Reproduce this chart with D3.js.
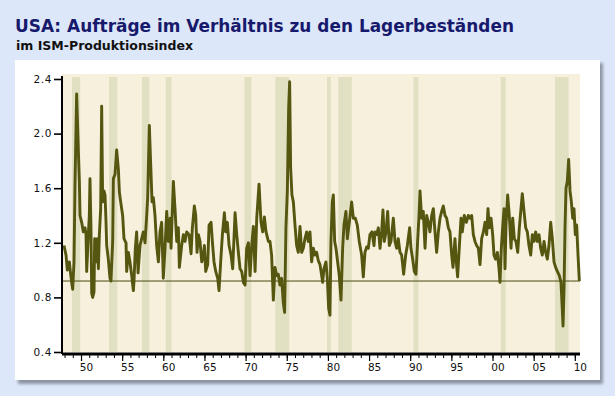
<!DOCTYPE html>
<html>
<head>
<meta charset="utf-8">
<script src="https://cdn.jsdelivr.net/npm/d3@7"></script>
<style>
    html, body { margin: 0; padding: 0; background: #dde7fa; }
    svg { display: block; }
</style>
</head>
<body>
<svg id="viewBox" width="615" height="396"></svg>
<script>
'use strict'

// orders / inventories ratio (decimal year, value)
const ratio = [
    [1947.93, 1.18], [1948.18, 1.11], [1948.34, 1.00], [1948.58, 1.06], [1948.74, 0.97], [1948.91, 0.89],
    [1948.99, 0.86], [1949.15, 1.06], [1949.27, 1.63], [1949.47, 2.29], [1949.68, 1.87], [1949.80, 1.65],
    [1949.88, 1.40], [1950.08, 1.35], [1950.28, 1.28], [1950.49, 1.31], [1950.61, 1.26], [1950.69, 0.99],
    [1950.89, 1.26], [1951.01, 1.40], [1951.09, 1.67], [1951.21, 1.31], [1951.30, 0.83], [1951.42, 0.80],
    [1951.58, 0.84], [1951.66, 1.23], [1951.82, 1.06], [1951.98, 1.23], [1952.11, 1.01], [1952.23, 1.26],
    [1952.39, 1.45], [1952.51, 2.20], [1952.63, 1.50], [1952.79, 1.58], [1952.92, 1.55], [1953.04, 1.35],
    [1953.12, 1.18], [1953.32, 1.08], [1953.52, 0.94], [1953.64, 0.92], [1953.85, 1.21], [1953.93, 1.67],
    [1954.13, 1.70], [1954.33, 1.88], [1954.54, 1.74], [1954.66, 1.57], [1954.82, 1.50], [1955.06, 1.40],
    [1955.22, 1.23], [1955.47, 1.20], [1955.55, 0.99], [1955.75, 1.13], [1955.95, 1.06], [1956.16, 0.96],
    [1956.36, 0.85], [1956.44, 0.92], [1956.60, 1.16], [1956.76, 1.28], [1956.93, 0.98], [1957.17, 1.18],
    [1957.37, 1.23], [1957.57, 1.28], [1957.78, 1.20], [1957.98, 1.40], [1958.10, 1.53], [1958.30, 2.06],
    [1958.47, 1.77], [1958.63, 1.50], [1958.79, 1.53], [1958.99, 1.40], [1959.19, 1.18], [1959.40, 1.06],
    [1959.60, 1.28], [1959.80, 1.35], [1960.00, 0.94], [1960.21, 1.16], [1960.41, 1.43], [1960.61, 1.21],
    [1960.82, 1.38], [1960.94, 1.16], [1961.22, 1.65], [1961.42, 1.45], [1961.63, 1.21], [1961.83, 1.31],
    [1961.95, 1.02], [1962.23, 1.18], [1962.44, 1.26], [1962.64, 1.21], [1962.84, 1.28], [1963.13, 1.26],
    [1963.37, 1.12], [1963.53, 1.31], [1963.77, 1.47], [1963.94, 1.40], [1964.10, 1.13], [1964.26, 1.26],
    [1964.46, 1.21], [1964.67, 1.06], [1964.87, 1.11], [1964.99, 1.18], [1965.15, 0.99], [1965.39, 1.04],
    [1965.56, 1.33], [1965.80, 1.35], [1965.96, 1.21], [1966.16, 1.06], [1966.37, 0.99], [1966.61, 0.94],
    [1966.77, 0.85], [1966.97, 1.06], [1967.18, 1.26], [1967.42, 1.42], [1967.58, 1.28], [1967.78, 1.35],
    [1967.99, 1.18], [1968.23, 1.11], [1968.43, 1.01], [1968.72, 1.42], [1968.92, 1.26], [1969.12, 1.13],
    [1969.32, 1.01], [1969.53, 0.99], [1969.73, 0.91], [1969.93, 0.89], [1970.13, 1.16], [1970.34, 1.20],
    [1970.54, 0.96], [1970.74, 1.18], [1970.94, 1.32], [1971.15, 0.99], [1971.35, 1.38], [1971.63, 1.63],
    [1971.87, 1.35], [1972.08, 1.28], [1972.28, 1.39], [1972.48, 1.28], [1972.77, 1.21], [1972.96, 1.21],
    [1973.16, 1.11], [1973.37, 0.78], [1973.57, 1.02], [1973.77, 0.96], [1973.97, 0.97], [1974.17, 0.89],
    [1974.38, 0.94], [1974.58, 0.76], [1974.74, 0.69], [1974.90, 1.31], [1975.07, 1.58], [1975.23, 2.19],
    [1975.35, 2.38], [1975.47, 1.75], [1975.63, 1.55], [1975.80, 1.50], [1976.00, 1.33], [1976.20, 1.18],
    [1976.40, 1.13], [1976.61, 1.32], [1976.81, 1.13], [1977.01, 1.16], [1977.21, 1.23], [1977.42, 1.28],
    [1977.62, 1.21], [1977.82, 1.28], [1978.02, 1.06], [1978.23, 1.16], [1978.43, 1.11], [1978.63, 1.13],
    [1978.83, 1.07], [1979.04, 1.04], [1979.24, 0.96], [1979.36, 0.91], [1979.52, 1.01], [1979.76, 1.06],
    [1979.93, 0.94], [1980.09, 0.72], [1980.25, 0.67], [1980.37, 1.21], [1980.53, 1.50], [1980.66, 1.55],
    [1980.82, 1.21], [1980.98, 1.16], [1981.18, 1.06], [1981.38, 0.96], [1981.59, 0.78], [1981.79, 1.16],
    [1981.95, 1.33], [1982.19, 1.43], [1982.36, 1.23], [1982.60, 1.35], [1982.88, 1.50], [1983.09, 1.38],
    [1983.33, 1.38], [1983.57, 1.33], [1983.81, 1.21], [1984.10, 1.11], [1984.30, 0.95], [1984.50, 1.13],
    [1984.71, 1.17], [1984.91, 1.16], [1985.11, 1.26], [1985.35, 1.28], [1985.60, 1.18], [1985.72, 1.28],
    [1985.92, 1.26], [1986.13, 1.31], [1986.33, 1.16], [1986.53, 1.28], [1986.69, 1.44], [1986.85, 1.21],
    [1987.06, 1.28], [1987.26, 1.43], [1987.46, 1.18], [1987.66, 1.21], [1987.95, 1.38], [1988.15, 1.21],
    [1988.35, 1.16], [1988.55, 1.23], [1988.76, 1.13], [1988.96, 1.11], [1989.20, 0.97], [1989.45, 1.11],
    [1989.65, 1.18], [1989.93, 1.31], [1990.09, 1.16], [1990.30, 1.08], [1990.50, 0.99], [1990.70, 0.97],
    [1990.90, 1.21], [1991.07, 1.40], [1991.19, 1.58], [1991.39, 1.38], [1991.59, 1.43], [1991.80, 1.16],
    [1992.00, 1.40], [1992.20, 1.35], [1992.40, 1.28], [1992.61, 1.40], [1992.81, 1.45], [1993.01, 1.28],
    [1993.21, 1.13], [1993.42, 1.28], [1993.62, 1.38], [1993.82, 1.43], [1994.02, 1.47], [1994.23, 1.40],
    [1994.43, 1.38], [1994.63, 1.31], [1994.83, 1.28], [1995.04, 1.11], [1995.20, 1.02], [1995.44, 1.23],
    [1995.60, 1.06], [1995.76, 0.95], [1995.93, 1.13], [1996.17, 1.38], [1996.33, 1.28], [1996.57, 1.40],
    [1996.82, 1.35], [1997.06, 1.40], [1997.26, 1.38], [1997.47, 1.40], [1997.67, 1.26], [1997.87, 1.21],
    [1998.07, 1.18], [1998.28, 1.16], [1998.48, 1.04], [1998.68, 1.23], [1998.89, 1.28], [1999.09, 1.35],
    [1999.29, 1.26], [1999.45, 1.45], [1999.61, 1.31], [1999.82, 1.38], [2000.02, 1.26], [2000.18, 1.11],
    [2000.38, 1.08], [2000.59, 1.13], [2000.79, 1.01], [2000.91, 0.91], [2001.07, 1.16], [2001.23, 1.31],
    [2001.40, 1.45], [2001.52, 1.01], [2001.64, 1.33], [2001.84, 1.55], [2002.04, 1.40], [2002.25, 1.16],
    [2002.45, 1.38], [2002.65, 1.23], [2002.85, 1.21], [2003.06, 1.13], [2003.26, 1.31], [2003.46, 1.45],
    [2003.62, 1.56], [2003.83, 1.43], [2004.03, 1.31], [2004.23, 1.28], [2004.43, 1.18], [2004.64, 1.11],
    [2004.84, 1.26], [2005.04, 1.21], [2005.24, 1.28], [2005.45, 1.21], [2005.65, 1.26], [2005.85, 1.16],
    [2006.05, 1.11], [2006.26, 1.21], [2006.46, 1.13], [2006.66, 1.08], [2006.86, 1.18], [2007.07, 1.35],
    [2007.27, 1.23], [2007.47, 1.06], [2007.67, 1.02], [2007.88, 0.99], [2008.12, 0.96], [2008.32, 0.91],
    [2008.44, 0.76], [2008.57, 0.59], [2008.69, 0.86], [2008.81, 1.31], [2008.93, 1.60], [2009.09, 1.65],
    [2009.25, 1.81], [2009.42, 1.58], [2009.58, 1.50], [2009.74, 1.38], [2009.90, 1.45], [2010.06, 1.26],
    [2010.22, 1.33], [2010.39, 1.11], [2010.55, 0.92]
]

// shaded recession periods (start, end)
const recessions = [
    [1948.9, 1949.9], [1953.4, 1954.4], [1957.4, 1958.3], [1960.3, 1961.0],
    [1969.85, 1970.7], [1973.6, 1975.3], [1979.9, 1980.35], [1981.25, 1982.9],
    [1990.4, 1991.0], [2001.0, 2001.6], [2007.6, 2009.25]
]

const referenceLevel = 0.92
const yTicks = [0.4, 0.8, 1.2, 1.6, 2.0, 2.4]
const majorYears = [1950, 1955, 1960, 1965, 1970, 1975, 1980, 1985, 1990, 1995, 2000, 2005, 2010]
const minorYears = d3.range(1948, 2011)

const title = 'USA: Aufträge im Verhältnis zu den Lagerbeständen'
const subtitle = 'im ISM-Produktionsindex'

const draw = () => {
    const svg = d3.select('#viewBox')
    const plot = { left: 62, right: 580, top: 74, bottom: 352 }

    svg.append('rect')
        .attr('width', 615).attr('height', 396)
        .attr('fill', '#dde7fa')

    svg.append('text')
        .attr('x', 15).attr('y', 32)
        .attr('font-family', 'DejaVu Sans')
        .attr('font-weight', 'bold')
        .attr('font-size', 18.5)
        .attr('fill', '#171a6c')
        .attr('textLength', 499)
        .attr('lengthAdjust', 'spacingAndGlyphs')
        .text(title)

    svg.append('text')
        .attr('x', 16).attr('y', 50)
        .attr('font-family', 'DejaVu Sans')
        .attr('font-weight', 'bold')
        .attr('font-size', 12)
        .attr('fill', '#111')
        .attr('textLength', 177)
        .attr('lengthAdjust', 'spacingAndGlyphs')
        .text(subtitle)

    // panel with soft shadow
    const defs = svg.append('defs')
    defs.append('filter').attr('id', 'blur')
        .append('feGaussianBlur').attr('stdDeviation', 1.6)
    svg.append('rect')
        .attr('x', 18).attr('y', 63).attr('width', 585).attr('height', 321)
        .attr('fill', '#8d95a3')
        .attr('filter', 'url(#blur)')
    svg.append('rect')
        .attr('x', 15).attr('y', 60).attr('width', 585).attr('height', 320)
        .attr('fill', '#fff')

    const x = d3.scaleLinear()
        .domain([1947.69, 2010.63])
        .range([plot.left, plot.right])
    const y = d3.scaleLinear()
        .domain([0.4, 2.4])
        .range([plot.bottom, 79])

    svg.append('rect')
        .attr('x', plot.left).attr('y', plot.top)
        .attr('width', plot.right - plot.left).attr('height', plot.bottom - plot.top)
        .attr('fill', '#f6f0dd')

    svg.append('g')
        .selectAll('rect')
        .data(recessions)
        .join('rect')
        .attr('x', d => x(d[0]))
        .attr('width', d => x(d[1]) - x(d[0]))
        .attr('y', plot.top + 3)
        .attr('height', plot.bottom - plot.top - 3)
        .attr('fill', '#e1e0c2')

    svg.append('line')
        .attr('x1', plot.left).attr('x2', plot.right)
        .attr('y1', y(referenceLevel)).attr('y2', y(referenceLevel))
        .attr('stroke', '#4b4b10')
        .attr('stroke-width', 1)

    const line = d3.line()
        .x(d => x(d[0]))
        .y(d => y(d[1]))

    svg.append('path')
        .datum(ratio)
        .attr('d', line)
        .attr('fill', 'none')
        .attr('stroke', '#55560f')
        .attr('stroke-width', 2.9)
        .attr('stroke-linejoin', 'round')

    // y axis
    const yAxis = svg.append('g')
        .attr('transform', `translate(${plot.left},0)`)
        .call(d3.axisLeft(y).tickValues(yTicks).tickFormat(d3.format('.1f')).tickSize(8).tickSizeOuter(0))
    yAxis.select('.domain')
        .attr('stroke', '#000').attr('stroke-width', 2)
        .attr('d', `M0,${plot.top + 2}V${plot.bottom + 2}`)
    yAxis.selectAll('.tick line').attr('stroke', '#000').attr('stroke-width', 1.6)
    yAxis.selectAll('.tick text')
        .attr('x', -10)
        .attr('font-family', 'DejaVu Sans')
        .attr('font-size', 10.5)
        .attr('letter-spacing', 0.6)
        .attr('fill', '#111')

    // x axis: yearly minor ticks, labelled ticks every five years
    svg.append('g')
        .attr('transform', `translate(0,${plot.bottom + 2})`)
        .call(d3.axisBottom(x).tickValues(minorYears).tickSize(4).tickFormat(''))
        .call(g => g.select('.domain').remove())
        .selectAll('.tick line').attr('stroke', '#000').attr('stroke-width', 1)

    const xAxis = svg.append('g')
        .attr('transform', `translate(0,${plot.bottom + 2})`)
        .call(d3.axisBottom(x).tickValues(majorYears).tickSize(7).tickSizeOuter(0)
            .tickFormat(d => d3.format('02d')(d % 100)))
    xAxis.select('.domain')
        .attr('stroke', '#000').attr('stroke-width', 3)
        .attr('d', `M${plot.left},0H${plot.right}`)
    xAxis.selectAll('.tick line').attr('stroke', '#000').attr('stroke-width', 1.2)
    xAxis.selectAll('.tick text')
        .attr('x', 5).attr('y', 10)
        .attr('font-family', 'DejaVu Sans')
        .attr('font-size', 10.5)
        .attr('fill', '#111')
}

draw()
</script>
</body>
</html>
